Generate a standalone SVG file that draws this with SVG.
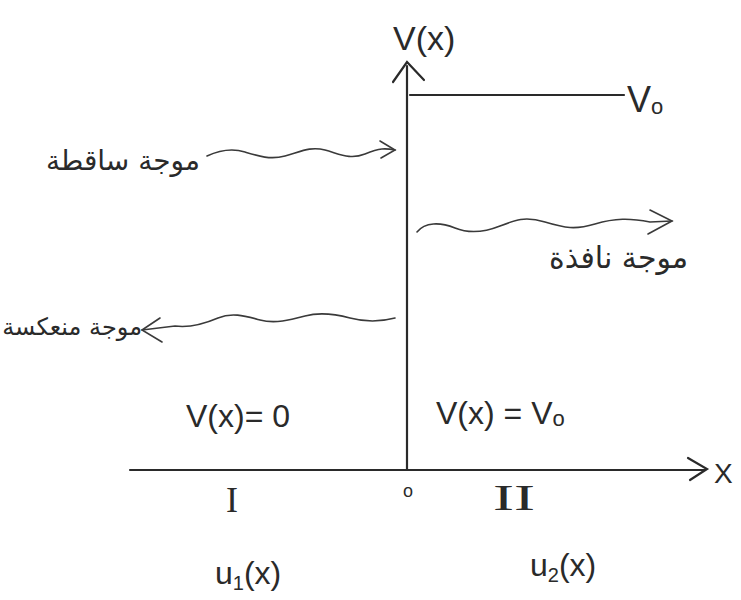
<svg xmlns="http://www.w3.org/2000/svg" width="741" height="600" viewBox="0 0 741 600">
<defs>
<style>
.ax{stroke:#2a2a2a;stroke-width:2.2;fill:none;stroke-linecap:round}
.wv{stroke:#3a3a3a;stroke-width:1.6;fill:none;stroke-linecap:round}
.t{font-family:"Liberation Sans","DejaVu Sans",sans-serif;fill:#2a2a2a}
.rm{font-family:"Liberation Serif","DejaVu Serif",serif;fill:#2a2a2a}
.ar{font-family:"DejaVu Sans","Noto Sans",sans-serif;fill:#2a2a2a}
</style>
</defs>
<rect width="741" height="600" fill="#ffffff"/>
<g id="axes">
<path class="ax" d="M407,470 L407,66"/>
<path class="ax" d="M393,82 L407,62 L424,80"/>
<path class="ax" d="M130,470 L705,470"/>
<path class="ax" d="M688,458 L707,469 L690,480"/>
</g>
<g id="step">
<path class="ax" d="M410,95 L624,95"/>
</g>
<g id="connectors">
<g id="incident">
<path class="wv" d="M207,156 C220,150 232,148 245,152 S270,160 285,156 S310,146 325,150 S350,160 365,154 S385,148 395,150"/>
<path class="wv" d="M380,141 L395,150 L381,158"/>
</g>
<g id="transmitted">
<path class="wv" d="M417,232 C425,222 440,222 455,228 S485,232 500,226 S525,216 545,222 S575,230 595,224 S630,218 650,222 L672,221"/>
<path class="wv" d="M650,210 L672,221 L648,234"/>
</g>
<g id="reflected">
<path class="wv" d="M395,318 C380,322 365,322 350,318 S320,312 305,316 S275,324 260,320 S232,312 218,318 S190,328 175,326 L142,330"/>
<path class="wv" d="M160,318 L142,330 L162,342"/>
</g>
</g>
<g id="labels">
<text class="t" x="393" y="50" font-size="34">V(x)</text>
<text class="t" x="627" y="112" font-size="36">V<tspan font-size="22" dy="2">o</tspan></text>
<text class="t" x="403" y="497" font-size="18">o</text>
<text class="rm" x="226" y="512" font-size="36">I</text>
<text class="rm" x="493" y="510" font-size="36" textLength="42" lengthAdjust="spacingAndGlyphs">II</text>
<text class="t" x="714" y="483" font-size="28">X</text>
<text class="t" x="186" y="427" font-size="32">V(x)= 0</text>
<text class="t" x="436" y="424" font-size="32">V(x) = V<tspan font-size="22" dy="2">o</tspan></text>
<text class="t" x="215" y="584" font-size="32">u<tspan font-size="20" dy="6">1</tspan><tspan dy="-6">(x)</tspan></text>
<text class="t" x="530" y="576" font-size="32">u<tspan font-size="20" dy="6">2</tspan><tspan dy="-6">(x)</tspan></text>
</g>
<g id="arabic">
<text class="ar" x="200" y="170" text-anchor="end" font-size="28">موجة ساقطة</text>
<text class="ar" x="688" y="268" text-anchor="end" font-size="30">موجة نافذة</text>
<text class="ar" x="142" y="335" text-anchor="end" font-size="24">موجة منعكسة</text>
</g>
</svg>
